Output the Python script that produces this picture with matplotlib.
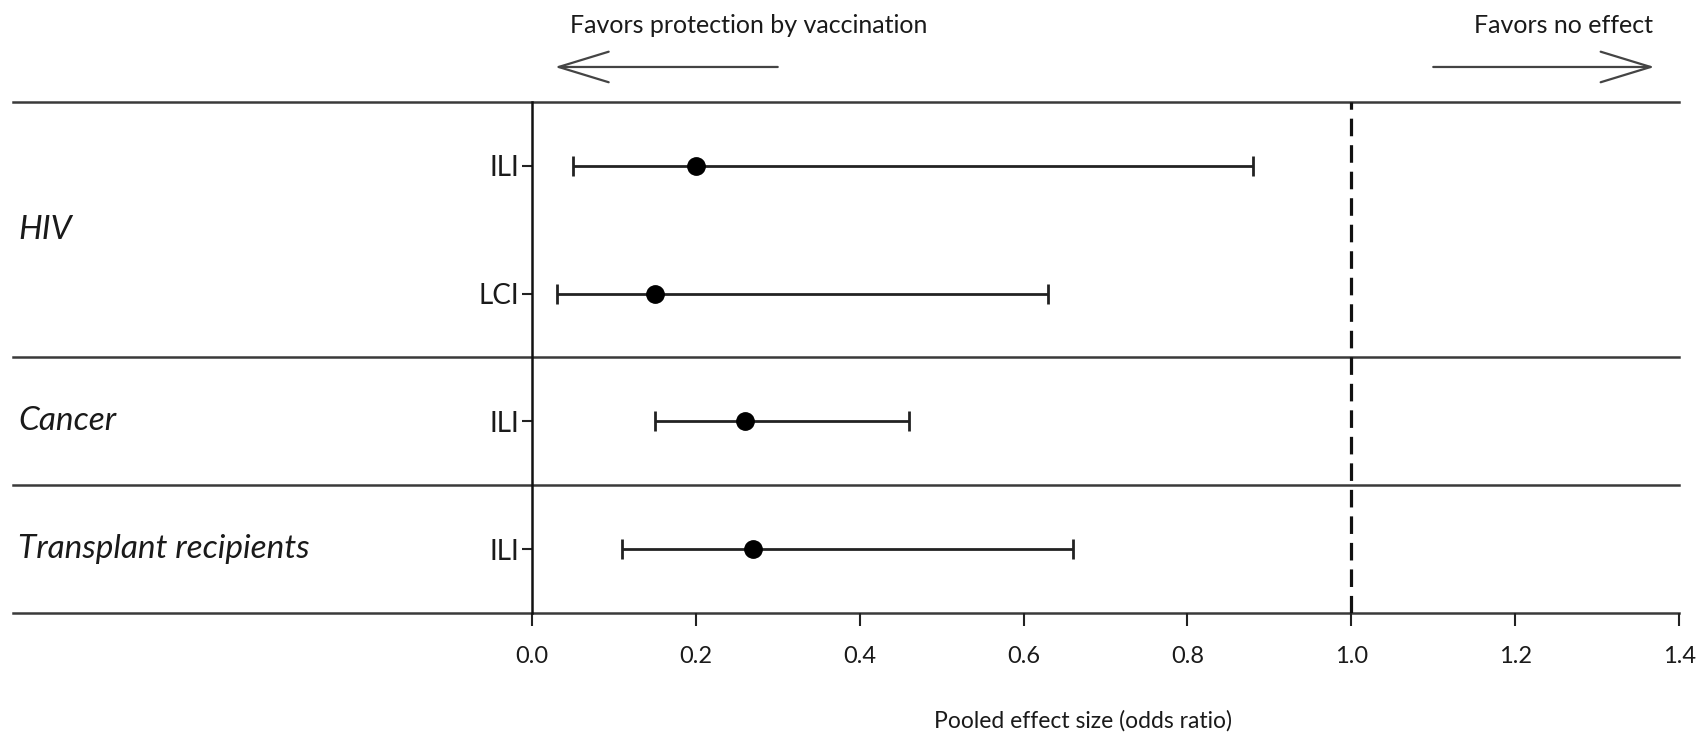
import numpy as np
import matplotlib.pyplot as plt
from matplotlib import transforms

plt.rcParams['font.family'] = ['Lato', 'DejaVu Sans']

# forest plot data (odds ratios with 95% CI)
groups = ['HIV', 'HIV', 'Cancer', 'Transplant recipients']
outcomes = ['ILI', 'LCI', 'ILI', 'ILI']
estimate = np.array([0.20, 0.15, 0.26, 0.27])
ci_low = np.array([0.05, 0.03, 0.15, 0.11])
ci_high = np.array([0.88, 0.63, 0.46, 0.66])
xticks = [0.0, 0.2, 0.4, 0.6, 0.8, 1.0, 1.2, 1.4]

LINE = '#3a3a3a'
TXT = '#1a1a1a'

fig = plt.figure(figsize=(17.06, 7.39), dpi=100)
ax = fig.add_axes([0.3118, 0.1705, 0.6724, 0.6915])

n = len(outcomes)
ypos = np.arange(n, 0, -1)  # first row on top

ax.errorbar(estimate, ypos,
            xerr=[estimate - ci_low, ci_high - estimate],
            fmt='o', color='black', ecolor='#222222',
            ms=12.5, capsize=7.5, elinewidth=2, capthick=2, zorder=3)

ax.axvline(1.0, color='#111111', lw=2.3, ls=(0, (5.5, 2.8)), zorder=2)

ax.set_xlim(0, 1.4)
ax.set_ylim(0.5, n + 0.5)

# horizontal separators between groups, extending over the label area
left_ext = -0.4525
bounds = [0.5, n + 0.5]
for i in range(1, n):
    if groups[i] != groups[i - 1]:
        bounds.append(ypos[i] + 0.5)
for b in bounds:
    ax.axhline(b, xmin=left_ext, xmax=1, color=LINE, lw=1.8,
               clip_on=False, zorder=1)

for side in ['top', 'right', 'bottom']:
    ax.spines[side].set_visible(False)
ax.spines['left'].set_linewidth(1.8)
ax.spines['left'].set_color('#111111')

ax.set_xticks(xticks)
ax.set_xticklabels(['{:.1f}'.format(t) for t in xticks])
ax.tick_params(axis='x', length=9, width=1.5, color='#222222', pad=15,
               labelsize=17, labelcolor=TXT)
ax.set_yticks(ypos)
ax.set_yticklabels(outcomes)
ax.tick_params(axis='y', length=7, width=1.5, color='#222222', pad=2,
               labelsize=20, labelcolor=TXT)

# group names at the far left
trans = transforms.blended_transform_factory(ax.transAxes, ax.transData)
seen = []
for g in groups:
    if g in seen:
        continue
    seen.append(g)
    yc = np.mean([y for y, gg in zip(ypos, groups) if gg == g])
    ax.text(-0.448, yc, g, transform=trans, ha='left', va='center',
            fontsize=24, style='italic', color=TXT)

ax.text(0.673, -0.211, 'Pooled effect size (odds ratio)',
        transform=transforms.blended_transform_factory(ax.transData, ax.transAxes),
        ha='center', va='center', fontsize=16.5, color=TXT)

# direction arrows at the top
tr = transforms.blended_transform_factory(ax.transData, ax.transAxes)
arrow = dict(arrowstyle='->,head_length=3.6,head_width=1.1', lw=1.6,
             color='#444444', shrinkA=0, shrinkB=0)
ax.annotate('', xy=(0.028, 1.0685), xytext=(0.30, 1.0685),
            xycoords=tr, textcoords=tr, arrowprops=arrow)
ax.annotate('', xy=(1.37, 1.0685), xytext=(1.10, 1.0685),
            xycoords=tr, textcoords=tr, arrowprops=arrow)
ax.text(0.264, 1.150, 'Favors protection by vaccination', transform=tr,
        ha='center', va='center', fontsize=18, color=TXT)
ax.text(1.259, 1.150, 'Favors no effect', transform=tr,
        ha='center', va='center', fontsize=18, color=TXT)

plt.savefig('out.png', dpi=100)
